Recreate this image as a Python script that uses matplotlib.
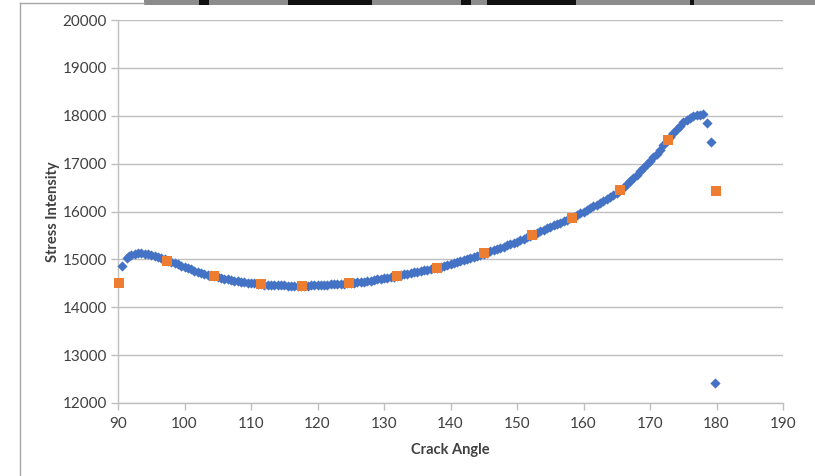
import matplotlib
matplotlib.use("Agg")
import matplotlib.pyplot as plt
import numpy as np
from matplotlib.patches import Rectangle
from matplotlib.lines import Line2D

plt.rcParams['font.family'] = ['Lato', 'DejaVu Sans']

# Blue diamond series: start points, dense body (92..178 every 0.5 deg), end outliers
blue_start_x = [90.6, 91.3, 91.7]
blue_start_y = [14860, 15020, 15070]

blue_body_x = np.arange(92.0, 178.01, 0.5)
blue_body_y = [
    15100, 15120, 15130, 15127, 15120, 15106, 15090, 15070, 15050, 15025,   # 92-96.5
    15000, 14975, 14950, 14925, 14900, 14870, 14840, 14815, 14790, 14765,   # 97-101.5
    14740, 14720, 14700, 14682, 14665, 14648, 14630, 14615, 14600, 14585,   # 102-106.5
    14570, 14557, 14545, 14535, 14525, 14515, 14505, 14497, 14490, 14482,   # 107-111.5
    14475, 14470, 14465, 14462, 14460, 14457, 14455, 14452, 14450, 14449,   # 112-116.5
    14448, 14449, 14450, 14452, 14455, 14458, 14462, 14466, 14470, 14474,   # 117-121.5
    14478, 14481, 14485, 14490, 14495, 14500, 14505, 14512, 14520, 14527,   # 122-126.5
    14535, 14545, 14555, 14567, 14580, 14592, 14605, 14617, 14630, 14642,   # 127-131.5
    14655, 14670, 14685, 14700, 14715, 14730, 14745, 14760, 14775, 14787,   # 132-136.5
    14800, 14815, 14830, 14847, 14865, 14885, 14905, 14925, 14945, 14965,   # 137-141.5
    14985, 15005, 15025, 15047, 15070, 15092, 15115, 15140, 15165, 15190,   # 142-146.5
    15215, 15240, 15265, 15290, 15315, 15342, 15370, 15397, 15425, 15457,   # 147-151.5
    15490, 15522, 15555, 15587, 15620, 15650, 15680, 15710, 15740, 15770,   # 152-156.5
    15800, 15830, 15860, 15892, 15925, 15960, 15995, 16032, 16070, 16107,   # 157-161.5
    16145, 16185, 16225, 16267, 16310, 16352, 16395, 16445, 16500, 16565,   # 162-166.5
    16630, 16700, 16770, 16842, 16915, 16987, 17060, 17132, 17205, 17290,   # 167-171.5
    17380, 17470, 17560, 17640, 17720, 17790, 17860, 17910, 17960, 17985,   # 172-176.5
    18010, 18020, 18030,                                                    # 177-178
]

blue_end_x = [178.6, 179.1, 179.8]
blue_end_y = [17840, 17450, 12420]

# Orange square series (sparse)
orange_x = [90.2, 97.3, 104.5, 111.5, 117.6, 124.8, 132.0, 138.0, 145.1, 152.3,
            158.3, 165.5, 172.7, 179.85]
orange_y = [14500, 14975, 14653, 14480, 14444, 14500, 14645, 14815, 15125, 15515,
            15870, 16445, 17500, 16430]

x_ticks = [90, 100, 110, 120, 130, 140, 150, 160, 170, 180, 190]
y_ticks = [12000, 13000, 14000, 15000, 16000, 17000, 18000, 19000, 20000]

blue_x = list(blue_start_x) + list(blue_body_x) + list(blue_end_x)
blue_y = list(blue_start_y) + list(blue_body_y) + list(blue_end_y)

fig = plt.figure(figsize=(8.15, 4.76), dpi=100)
ax = fig.add_axes([118/815, 1-403/476, (783-118)/815, (403-20)/476])

ax.scatter(blue_x, blue_y, marker='D', s=5.2**2, color='#4472C4', zorder=3,
           linewidths=0, clip_on=False)
ax.scatter(orange_x, orange_y, marker='s', s=7.0**2, color='#ED7D31', zorder=4,
           linewidths=0, clip_on=False)

ax.set_xlim(90, 190)
ax.set_ylim(12000, 20000)
ax.set_xticks(x_ticks)
ax.set_yticks(y_ticks)
ax.grid(axis='y', color='#BFBFBF', linewidth=1.0, zorder=0)
ax.set_axisbelow(True)
for s in ['top', 'right']:
    ax.spines[s].set_visible(False)
for s in ['left', 'bottom']:
    ax.spines[s].set_color('#BFBFBF')
    ax.spines[s].set_linewidth(1.0)
ax.tick_params(axis='both', colors='#BFBFBF', labelcolor='#404040', labelsize=11,
               length=5, width=1.0)
ax.tick_params(axis='y', pad=3)
ax.tick_params(axis='x', pad=5)

ax.set_xlabel('Crack Angle', fontsize=10.5, fontweight='bold', color='#404040', labelpad=9)
ax.set_ylabel('Stress Intensity', fontsize=10.5, fontweight='bold', color='#404040', labelpad=2)

# Chart container border and cropped strip at top
fig.add_artist(Line2D([20/815, 20/815], [0, 1-3/476], transform=fig.transFigure,
                      color='#A6A6A6', linewidth=1.0))
fig.add_artist(Line2D([20/815, 144/815], [1-3/476, 1-3/476], transform=fig.transFigure,
                      color='#A6A6A6', linewidth=1.0))
fig.add_artist(Rectangle((144/815, 1-5/476), 1-144/815, 5/476, transform=fig.transFigure,
                         facecolor='#8C8C8C', edgecolor='none'))
for (x0, x1) in [(199, 209), (288, 372), (461, 471), (487, 576), (690, 694)]:
    fig.add_artist(Rectangle((x0/815, 1-5/476), (x1-x0)/815, 5/476, transform=fig.transFigure,
                             facecolor='#111111', edgecolor='none'))

fig.savefig('out.png', dpi=100)
